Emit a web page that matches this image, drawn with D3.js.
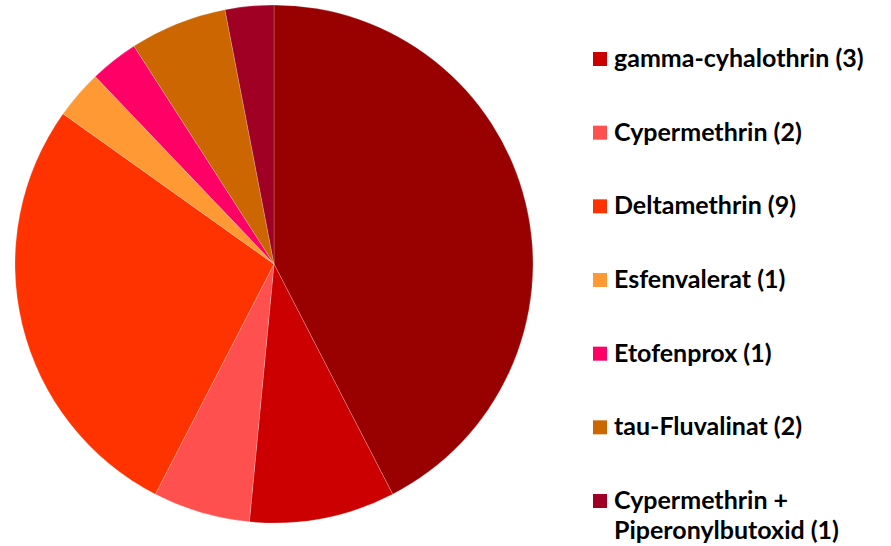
<!DOCTYPE html>
<html><head><meta charset="utf-8">
<script src="https://cdn.jsdelivr.net/npm/d3@7"></script>
<style>body{margin:0;background:#fff}svg{display:block}</style>
</head><body>
<svg id="c" width="891" height="546"></svg>
<script>
const categories = ["lambda-Cyhalothrin", "gamma-cyhalothrin", "Cypermethrin", "Deltamethrin", "Esfenvalerat", "Etofenprox", "tau-Fluvalinat", "Cypermethrin + Piperonylbutoxid"];
const values = [14, 3, 2, 9, 1, 1, 2, 1];
const colors = ["#990000", "#CC0000", "#FF5050", "#FF3300", "#FF9933", "#FF0066", "#CC6600", "#A00024"];
const legendLines = [null, ["gamma-cyhalothrin (3)"], ["Cypermethrin (2)"], ["Deltamethrin (9)"], ["Esfenvalerat (1)"], ["Etofenprox (1)"], ["tau-Fluvalinat (2)"], ["Cypermethrin +", "Piperonylbutoxid (1)"]];

const svg = d3.select("#c");
const cx = 274, cy = 264, r = 259;
const data = categories.map((c, i) => ({c, v: values[i], col: colors[i], i}));
const pie = d3.pie().value(d => d.v).sort(null);
const arc = d3.arc().innerRadius(0).outerRadius(r);
const g = svg.append("g").attr("transform", `translate(${cx},${cy})`);
g.selectAll("path").data(pie(data)).join("path")
  .attr("d", arc).attr("fill", d => d.data.col)
  .attr("stroke", "rgba(255,255,255,0.35)").attr("stroke-width", 0.6);

const legendY = d3.scaleLinear().domain([1, 7]).range([59, 501]);
const lg = svg.append("g");
data.filter(d => legendLines[d.i]).forEach(d => {
  const y = legendY(d.i);
  lg.append("rect").attr("x", 593).attr("y", y - 7).attr("width", 14).attr("height", 14).attr("fill", d.col);
  const t = lg.append("text").attr("x", 614).attr("y", y + 8)
    .attr("font-family", "Lato, 'Open Sans', sans-serif").attr("font-weight", "bold")
    .attr("font-size", 25).attr("fill", "#000");
  legendLines[d.i].forEach((line, k) => {
    t.append("tspan").attr("x", 614).attr("dy", k === 0 ? 0 : 30).text(line);
  });
});
</script>
</body></html>
